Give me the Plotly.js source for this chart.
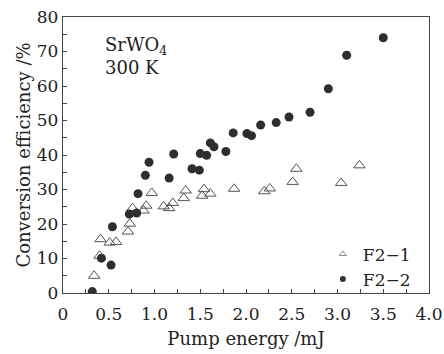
<!DOCTYPE html>
<html>
<head>
<meta charset="utf-8">
<script src="https://cdn.plot.ly/plotly-3.0.1.min.js"></script>
<style>html,body{margin:0;padding:0;background:#fff;}#chart{width:444px;height:354px;}</style>
</head>
<body>
<div id="chart"></div>
<script>
// F2-1 (open triangles)
var f21Energy = [0.34, 0.40, 0.41, 0.51, 0.58, 0.71, 0.73, 0.76, 0.88, 0.91, 0.97, 1.10, 1.16, 1.20, 1.32, 1.34, 1.52, 1.54, 1.61, 1.87, 2.20, 2.26, 2.51, 2.55, 3.04, 3.24];
var f21Eff    = [5.0, 10.8, 15.6, 14.6, 14.8, 17.8, 20.1, 24.6, 23.9, 25.3, 29.0, 25.1, 24.6, 26.1, 27.5, 29.7, 28.2, 30.1, 28.8, 30.2, 29.5, 30.3, 32.2, 36.0, 31.9, 37.0];
// F2-2 (filled circles)
var f22Energy = [0.32, 0.42, 0.525, 0.54, 0.725, 0.805, 0.82, 0.90, 0.94, 1.16, 1.21, 1.41, 1.49, 1.50, 1.57, 1.61, 1.65, 1.78, 1.86, 2.01, 2.06, 2.16, 2.33, 2.47, 2.70, 2.90, 3.10, 3.50];
var f22Eff    = [0.4, 10.1, 8.1, 19.2, 22.9, 23.2, 28.8, 34.1, 37.9, 33.3, 40.3, 36.0, 35.6, 40.4, 39.9, 43.5, 42.4, 41.0, 46.4, 46.2, 45.6, 48.7, 49.4, 51.0, 52.4, 59.2, 68.9, 74.0];
var seriesNames = ['F2\u22121', 'F2\u22122'];
var xTickVals = [0, 0.5, 1.0, 1.5, 2.0, 2.5, 3.0, 3.5, 4.0];
var xTickText = ['0', '0.5', '1.0', '1.5', '2.0', '2.5', '3.0', '3.5', '4.0'];
var yTickVals = [0, 10, 20, 30, 40, 50, 60, 70, 80];

var serif = 'DejaVu Serif, Liberation Serif, serif';
var traces = [
  {x: f21Energy, y: f21Eff, mode: 'markers', type: 'scatter', showlegend: false,
   marker: {symbol: 'triangle-up-open', size: 10, color: '#555', line: {width: 1, color: '#555'}}},
  {x: f22Energy, y: f22Eff, mode: 'markers', type: 'scatter', showlegend: false,
   marker: {symbol: 'circle', size: 9, color: '#2e2e2e'}},
  {x: [null], y: [null], mode: 'markers', type: 'scatter', name: seriesNames[0],
   marker: {symbol: 'triangle-up-open', size: 6, color: '#888', line: {width: 1, color: '#888'}}},
  {x: [null], y: [null], mode: 'markers', type: 'scatter', name: seriesNames[1],
   marker: {symbol: 'circle', size: 6, color: '#333'}}
];
var layout = {
  width: 444, height: 354,
  margin: {l: 63, r: 15, t: 17, b: 61},
  paper_bgcolor: '#fff', plot_bgcolor: '#fff',
  font: {family: serif, size: 17, color: '#222'},
  xaxis: {
    range: [0, 4.0], tickvals: xTickVals, ticktext: xTickText,
    ticks: 'inside', ticklen: 4, tickcolor: '#444', showgrid: false, zeroline: false,
    showline: true, linecolor: '#444', linewidth: 1.2, mirror: true,
    minor: {dtick: 0.25, ticks: 'inside', ticklen: 4, tickcolor: '#444', showgrid: false},
    ticklabelstandoff: 5,
    tickfont: {family: serif, size: 17, color: '#222'},
    title: {text: 'Pump energy /mJ', font: {family: serif, size: 18, color: '#222'}, standoff: 9}
  },
  yaxis: {
    range: [0, 80], tickvals: yTickVals,
    ticks: 'inside', ticklen: 4, tickcolor: '#444', showgrid: false, zeroline: false,
    showline: true, linecolor: '#444', linewidth: 1.2, mirror: true,
    minor: {dtick: 5, ticks: 'inside', ticklen: 4, tickcolor: '#444', showgrid: false},
    tickfont: {family: serif, size: 17, color: '#222'},
    title: {text: 'Conversion efficiency /%', font: {family: serif, size: 18, color: '#222'}, standoff: 1}
  },
  legend: {x: 0.71, y: 0.205, xanchor: 'left', yanchor: 'top', bgcolor: 'rgba(0,0,0,0)',
    font: {family: serif, size: 17, color: '#222'}, tracegroupgap: 0},
  annotations: [
    {xref: 'paper', yref: 'paper', x: 0.11, y: 0.945, xanchor: 'left', yanchor: 'top', align: 'left',
     showarrow: false, text: 'SrWO<sub>4</sub><br>300 K', font: {family: serif, size: 18, color: '#222'}}
  ]
};
Plotly.newPlot('chart', traces, layout, {displayModeBar: false, staticPlot: true});
</script>
</body>
</html>
